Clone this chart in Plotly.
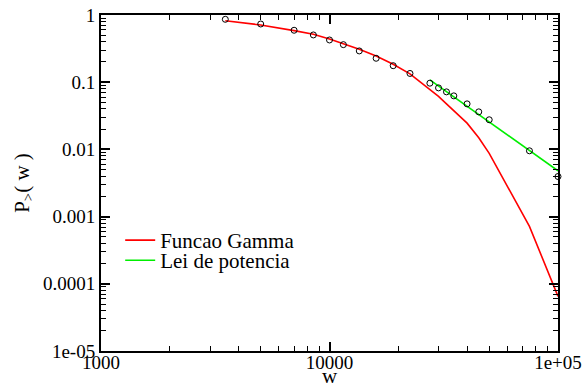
import plotly.graph_objects as go

# data
w_data = [3500, 5000, 7000, 8500, 10000, 11500, 13500, 16000, 19000, 22500,
          27500, 30000, 32500, 35000, 40000, 45000, 50000, 75000, 100000]
p_data = [0.863, 0.735, 0.593, 0.505, 0.425, 0.362, 0.292, 0.227, 0.176, 0.135,
          0.0967, 0.0823, 0.0718, 0.0626, 0.0476, 0.0362, 0.0276, 0.00953, 0.00395]
p_gamma = [0.822, 0.71, 0.585, 0.516, 0.44, 0.375, 0.309, 0.246, 0.185, 0.133,
           0.0787, 0.0615, 0.0476, 0.0375, 0.0246, 0.0149, 0.00875, 0.000715, 6.5e-5]
w_power = [27500, 100000]
p_power = [0.108, 0.0048]

x_tickvals = [1000, 10000, 100000]
x_ticktext = ["1000", "10000", "1e+05"]
y_tickvals = [1, 0.1, 0.01, 0.001, 0.0001, 0.00001]
y_ticktext = ["1", "0.1", "0.01", "0.001", "0.0001", "1e-05"]

FONT = "Liberation Serif, Times New Roman, serif"

fig = go.Figure()
fig.add_trace(go.Scatter(x=w_data, y=p_gamma, mode="lines", name="Funcao Gamma",
                         legend="legend",
                         line=dict(color="#ff0000", width=1.6)))
fig.add_trace(go.Scatter(x=w_power, y=p_power, mode="lines", name="Lei de potencia",
                         legend="legend2",
                         line=dict(color="#00ee00", width=1.6)))
fig.add_trace(go.Scatter(x=w_data, y=p_data, mode="markers", showlegend=False,
                         cliponaxis=False,
                         marker=dict(symbol="circle-open", size=6, color="black",
                                     line=dict(width=1, color="black"))))

axis_common = dict(
    type="log", showline=True, linecolor="black", linewidth=2, mirror="ticks",
    ticks="inside", ticklen=9, tickwidth=1.5, tickcolor="black",
    showgrid=False, zeroline=False, automargin=False,
    tickfont=dict(family=FONT, size=19, color="black"),
    minor=dict(ticks="inside", ticklen=5, tickwidth=1, tickcolor="black",
               dtick="D1", showgrid=False),
)

legend_common = dict(xanchor="left", yanchor="top", bgcolor="rgba(0,0,0,0)",
                     font=dict(family=FONT, size=21), itemwidth=30)

fig.update_layout(
    width=584, height=388,
    margin=dict(l=101, r=26, t=15, b=37),
    paper_bgcolor="white", plot_bgcolor="white",
    font=dict(family=FONT, color="black"),
    xaxis=dict(axis_common, range=[3, 5], tickmode="array",
               tickvals=x_tickvals, ticktext=x_ticktext, ticklabelstandoff=-7,
               title=dict(text="w", font=dict(family=FONT, size=21), standoff=0)),
    yaxis=dict(axis_common, range=[-5, 0], tickmode="array",
               tickvals=y_tickvals, ticktext=y_ticktext,
               title=dict(text="P<sub>></sub>( w )", font=dict(family=FONT, size=21),
                          standoff=8)),
    legend=dict(legend_common, x=0.042, y=0.39),
    legend2=dict(legend_common, x=0.042, y=0.33),
    showlegend=True,
)

fig.write_html("out.html")
